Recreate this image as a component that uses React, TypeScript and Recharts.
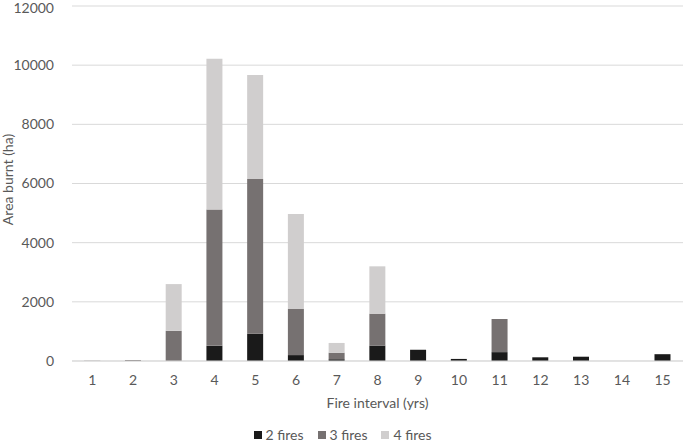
import React from 'react';
import { BarChart, Bar, XAxis, YAxis, CartesianGrid } from 'recharts';

const intervals = ['1', '2', '3', '4', '5', '6', '7', '8', '9', '10', '11', '12', '13', '14', '15'];
const twoFires = [0, 0, 0, 520, 920, 200, 60, 520, 380, 70, 300, 125, 145, 0, 230];
const threeFires = [10, 30, 1020, 4600, 5230, 1560, 220, 1080, 0, 0, 1120, 0, 0, 0, 0];
const fourFires = [20, 0, 1580, 5100, 3520, 3210, 330, 1600, 0, 0, 0, 0, 0, 0, 0];
const yTicks = [0, 2000, 4000, 6000, 8000, 10000, 12000];

const data = intervals.map((interval, i) => ({
  interval,
  two: twoFires[i],
  three: threeFires[i],
  four: fourFires[i],
}));

const textColor = '#595959';
const font = 'Lato, "Open Sans", sans-serif';

const series = [
  { key: 'two', name: '2 fires', color: '#1a1a1a' },
  { key: 'three', name: '3 fires', color: '#767171' },
  { key: 'four', name: '4 fires', color: '#d0cece' },
];

const YLabel = (props: any) => {
  const vb = props.viewBox || {};
  const cy = vb.y + vb.height / 2 - 4;
  return (
    <text x={13} y={cy} transform={`rotate(-90, 13, ${cy})`} textAnchor="middle" fill={textColor} fontSize={14} fontFamily={font}>
      Area burnt (ha)
    </text>
  );
};

export default function App() {
  return (
    <div style={{ position: 'absolute', left: 0, top: 0, width: 685, height: 442, background: '#fff' }}>
      <BarChart
        width={685}
        height={442}
        data={data}
        margin={{ top: 6, right: 2, left: 0, bottom: 30 }}
        barCategoryGap="30%"
      >
        <CartesianGrid vertical={false} stroke="#d9d9d9" />
        <XAxis
          dataKey="interval"
          axisLine={{ stroke: '#d9d9d9' }}
          tickLine={false}
          tick={{ fill: textColor, fontSize: 14, fontFamily: font }}
          tickMargin={8}
          height={51}
          label={{ value: 'Fire interval (yrs)', position: 'insideBottom', offset: 4, fill: textColor, fontSize: 14, fontFamily: font }}
        />
        <YAxis
          width={72}
          domain={[0, 12000]}
          ticks={yTicks}
          axisLine={false}
          tickLine={false}
          tick={{ fill: textColor, fontSize: 14, fontFamily: font }}
          tickMargin={12}
          label={<YLabel />}
        />
        {series.map((s) => (
          <Bar key={s.key} dataKey={s.key} name={s.name} stackId="a" fill={s.color} isAnimationActive={false} />
        ))}
      </BarChart>
      <div
        style={{
          position: 'absolute',
          left: 0,
          right: 0,
          top: 426,
          display: 'flex',
          justifyContent: 'center',
          gap: 14,
          fontFamily: font,
          fontSize: 14,
          color: textColor,
        }}
      >
        {series.map((s) => (
          <div key={s.key} style={{ display: 'flex', alignItems: 'center', gap: 4 }}>
            <span style={{ width: 8, height: 8, background: s.color, display: 'inline-block' }} />
            <span>{s.name}</span>
          </div>
        ))}
      </div>
    </div>
  );
}
